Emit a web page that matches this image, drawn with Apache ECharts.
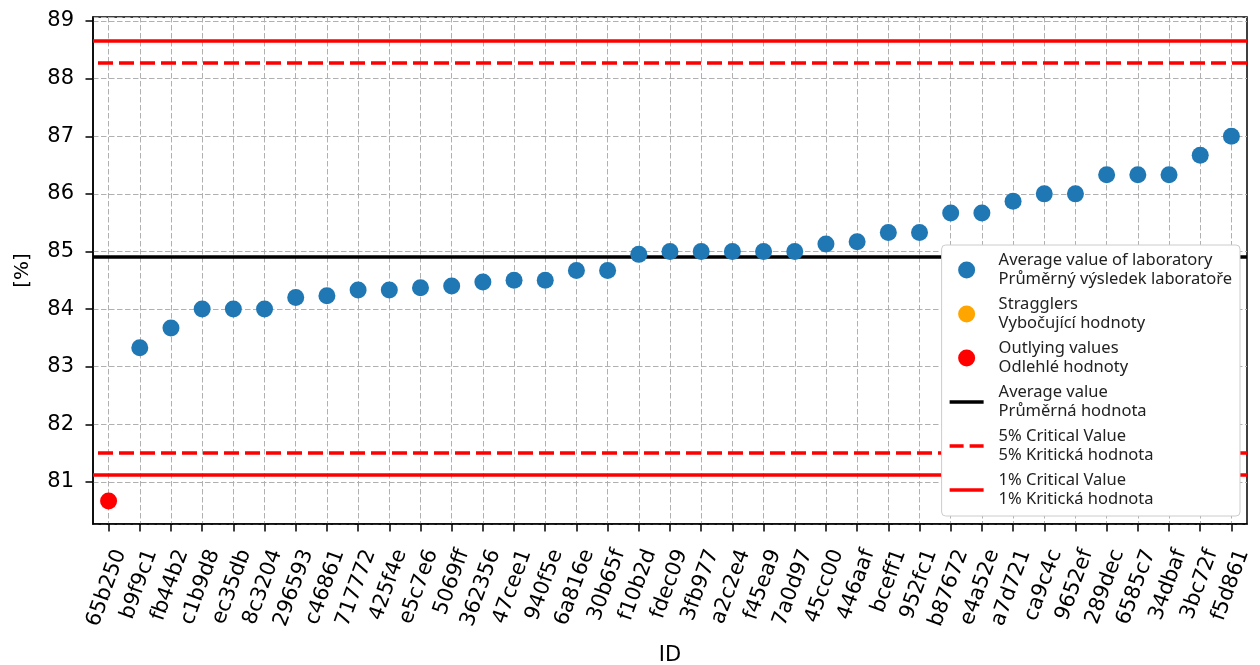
<!DOCTYPE html>
<html>
<head>
<meta charset="utf-8">
<script src="https://cdn.jsdelivr.net/npm/echarts@6/dist/echarts.min.js"></script>
<style>
html,body{margin:0;padding:0;background:#fff;}
#chart{width:1260px;height:665px;}
</style>
</head>
<body>
<div id="chart"></div>
<script>
const ids = ['65b250','b9f9c1','fb44b2','c1b9d8','ec35db','8c3204','296593','c46861','717772','425f4e','e5c7e6','5069ff','362356','47cee1','940f5e','6a816e','30b65f','f10b2d','fdec09','3fb977','a2c2e4','f45ea9','7a0d97','45cc00','446aaf','bceff1','952fc1','b87672','e4a52e','a7d721','ca9c4c','9652ef','289dec','6585c7','34dbaf','3bc72f','f5d861'];
const labValues = [80.67, 83.33, 83.67, 84.0, 84.0, 84.0, 84.2, 84.23, 84.33, 84.33, 84.37, 84.4, 84.47, 84.5, 84.5, 84.67, 84.67, 84.95, 85.0, 85.0, 85.0, 85.0, 85.0, 85.13, 85.17, 85.33, 85.33, 85.67, 85.67, 85.87, 86.0, 86.0, 86.33, 86.33, 86.33, 86.67, 87.0];
const stragglerIds = [];
const outlierIds = ['65b250'];
const averageValue = 84.9;
const crit5 = [81.5, 88.28];
const crit1 = [81.12, 88.65];
const yTicks = [81, 82, 83, 84, 85, 86, 87, 88, 89];

const names = {
  lab: 'Average value of laboratory\nPrůměrný výsledek laboratoře',
  strag: 'Stragglers\nVybočující hodnoty',
  out: 'Outlying values\nOdlehlé hodnoty',
  avg: 'Average value\nPrůměrná hodnota',
  c5: '5% Critical Value\n5% Kritická hodnota',
  c1: '1% Critical Value\n1% Kritická hodnota'
};

const normalData = ids.map((id, i) => (stragglerIds.includes(id) || outlierIds.includes(id)) ? '-' : labValues[i]);
const stragData = ids.map((id, i) => stragglerIds.includes(id) ? labValues[i] : '-');
const outData = ids.map((id, i) => outlierIds.includes(id) ? labValues[i] : '-');
const emptyData = ids.map(() => '-');

function lineSeries(name, color, type, values) {
  const ls = {color: color, width: 3.6, type: type, dashOffset: 16};
  return {
    name: name, type: 'line', data: emptyData, symbol: 'none', z: 2,
    lineStyle: ls,
    itemStyle: {color: color},
    markLine: {
      silent: true, symbol: ['none', 'none'], animation: false, z: 2,
      label: {show: false},
      lineStyle: ls,
      emphasis: {disabled: true},
      data: values.map(v => ({yAxis: v}))
    }
  };
}

const solidIcon = 'path://M0,0h34v3.6h-34z';
const dashIcon = 'path://M0,0h14v3.6h-14z M20,0h14v3.6h-14z';

const chart = echarts.init(document.getElementById('chart'), null, {renderer: 'canvas'});
chart.setOption({
  animation: false,
  grid: {left: 93, right: 13, top: 17, bottom: 141, outerBoundsMode: 'none', containLabel: false, show: true, borderColor: '#000', borderWidth: 1.5, backgroundColor: 'transparent'},
  legend: {
    orient: 'vertical', right: 20, top: 245, z: 20, zlevel: 0,
    padding: [6, 8, 7, 8],
    itemWidth: 34, itemHeight: 17, itemGap: 6,
    backgroundColor: '#ffffff', borderColor: '#cccccc', borderWidth: 1, borderRadius: 4,
    textStyle: {fontFamily: 'Noto Sans', fontSize: 16.5, lineHeight: 19, color: '#222', padding: [0, 0, 0, 10]},
    selectedMode: false,
    data: [
      {name: names.lab, icon: 'circle'},
      {name: names.strag, icon: 'circle'},
      {name: names.out, icon: 'circle'},
      {name: names.avg, icon: solidIcon, itemStyle: {color: '#000000'}},
      {name: names.c5, icon: dashIcon, itemStyle: {color: '#ff0000'}},
      {name: names.c1, icon: solidIcon, itemStyle: {color: '#ff0000'}}
    ]
  },
  xAxis: {
    type: 'category', data: ids, boundaryGap: true,
    name: 'ID', nameLocation: 'middle', nameGap: 121,
    nameTextStyle: {fontFamily: 'DejaVu Sans', fontSize: 21, color: '#000'},
    axisLine: {show: true, lineStyle: {color: '#000', width: 1.5}},
    axisTick: {show: true, alignWithLabel: true, length: 7.5, lineStyle: {color: '#000', width: 1.5}},
    axisLabel: {interval: 0, rotate: 70, margin: 22, align: 'right', verticalAlign: 'top', lineHeight: 21, padding: [2, 0, 0, 0], fontFamily: 'DejaVu Sans', fontSize: 21, color: '#000'},
    splitLine: {show: true, alignWithLabel: true, interval: 0, lineStyle: {color: '#b0b0b0', width: 1, type: [5.5, 2.5]}}
  },
  yAxis: {
    type: 'value', min: 80.27, max: 89.07, splitNumber: 9, minInterval: 1, maxInterval: 1,
    name: '[%]', nameLocation: 'middle', nameGap: 60, nameRotate: 90,
    nameTextStyle: {fontFamily: 'DejaVu Sans', fontSize: 20, color: '#000'},
    axisLine: {show: true, lineStyle: {color: '#000', width: 1.5}},
    axisTick: {show: true, length: 7.5, lineStyle: {color: '#000', width: 1.5}},
    axisLabel: {
      margin: 19, fontFamily: 'DejaVu Sans', fontSize: 21, color: '#000',
      showMinLabel: false, showMaxLabel: false,
      formatter: v => yTicks.includes(Math.round(v * 1000) / 1000) ? String(Math.round(v)) : ''
    },
    splitLine: {show: true, lineStyle: {color: '#b0b0b0', width: 1, type: [5.5, 2.5]}}
  },
  series: [
    {name: names.lab, type: 'scatter', data: normalData, symbol: 'circle', symbolSize: 17, z: 5, itemStyle: {color: '#1f77b4', opacity: 1}},
    {name: names.strag, type: 'scatter', data: stragData, symbol: 'circle', symbolSize: 17, z: 5, itemStyle: {color: '#ffa500', opacity: 1}},
    {name: names.out, type: 'scatter', data: outData, symbol: 'circle', symbolSize: 17, z: 5, itemStyle: {color: '#ff0000', opacity: 1}},
    lineSeries(names.avg, '#000000', 'solid', [averageValue]),
    lineSeries(names.c5, '#ff0000', [15, 6], crit5),
    lineSeries(names.c1, '#ff0000', 'solid', crit1)
  ]
});
</script>
</body>
</html>
